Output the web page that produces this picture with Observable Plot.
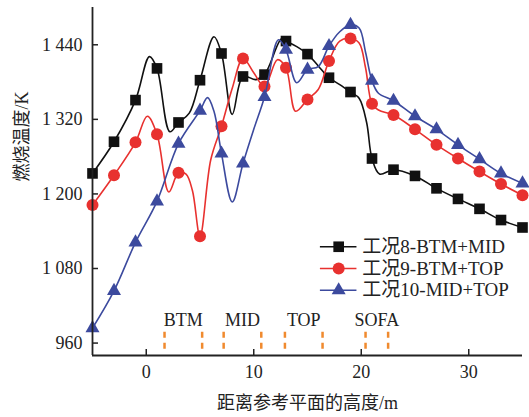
<!DOCTYPE html>
<html><head><meta charset="utf-8">
<script src="https://cdn.jsdelivr.net/npm/d3@7"></script>
<script src="https://cdn.jsdelivr.net/npm/@observablehq/plot@0.6"></script>
<style>
html,body{margin:0;padding:0;background:#fff;}
#chart svg{font-family:"Liberation Serif","Noto Sans CJK SC",serif;}
</style></head><body><div id="chart"></div>
<script>
// Marker positions (height above reference plane, m)
const heights = [-5,-3,-1,1,3,5,7,9,11,13,15,17,19,21,23,25,27,29,31,33,35];
// Marker values (K)
const case8  = [1233,1284,1351,1402,1315,1383,1426,1389,1392,1446,1425,1387,1364,1257,1239,1229,1209,1192,1176,1158,1146];
const case9  = [1182,1230,1283,1296,1234,1132,1309,1418,1373,1403,1352,1414,1450,1345,1327,1304,1279,1257,1236,1216,1198];
const case10 = [984,1044,1122,1188,1281,1334,1265,1249,1356,1432,1400,1438,1472,1382,1350,1325,1304,1279,1256,1233,1217];
// Extra points
const curve8X  = [0.3, 2.2, 4, 6.3, 8, 10.2, 12.6, 14, 16, 18, 19.8, 20.5, 21.7];
const curve8Y  = [1421, 1300, 1330, 1453, 1328, 1384, 1450, 1437, 1406, 1376, 1354, 1315, 1232];
const curve9X  = [0.1, 2.1, 3.7, 4.3, 6, 8, 10, 12.2, 13.9, 16, 18, 19.8, 20.4, 21.6];
const curve9Y  = [1325, 1203, 1232, 1205, 1255, 1370, 1395, 1416, 1333, 1368, 1446, 1443, 1403, 1335];
const curve10X = [5.7, 6.3, 8, 10, 12.3, 14, 16, 18, 19.8, 20.4, 21.6];
const curve10Y = [1355, 1333, 1187, 1304, 1448, 1379, 1405, 1461, 1467, 1428, 1362];

const seriesNames = ["工况8-BTM+MID", "工况9-BTM+TOP", "工况10-MID+TOP"];
const yTicks = [960, 1080, 1200, 1320, 1440];
const xTicks = [0, 10, 20, 30];
const zoneNames = ["BTM", "MID", "TOP", "SOFA"];
const zoneStart = [1.7, 7.2, 12.9, 20.4];
const zoneEnd   = [5.2, 10.7, 16.4, 22.5];

const colors = ["#111111", "#e8312f", "#3c4a9e"];
const symbols = ["square", "circle", "triangle"];
const radii = [6, 6, 5.2];

const locale = d3.formatLocale({decimal: ".", thousands: " ", grouping: [3], currency: ["", ""]});
const fmt = locale.format(",d");

function build(vals, ex, ey) {
  const markers = heights.map((x, i) => ({x, y: vals[i]}));
  const curve = markers.concat(ex.map((x, i) => ({x, y: ey[i]}))).sort((a, b) => a.x - b.x);
  return {markers, curve};
}
const series = [
  build(case8, curve8X, curve8Y),
  build(case9, curve9X, curve9Y),
  build(case10, curve10X, curve10Y)
];

const legendRows = [1115, 1080, 1045];
const marks = [];
// zones
marks.push(Plot.ruleX(zoneStart.concat(zoneEnd), {y1: 950, y2: 980, stroke: "#f08a2e", strokeWidth: 2.5, strokeDasharray: "6,5"}));
marks.push(Plot.text(zoneNames, {x: (d, i) => (zoneStart[i] + zoneEnd[i]) / 2, y: 997, text: d => d, fontSize: 18, fill: "#222", textAnchor: "middle", lineAnchor: "middle"}));
// series
series.forEach((s, k) => {
  marks.push(Plot.line(s.curve, {x: "x", y: "y", stroke: colors[k], strokeWidth: 1.6, curve: "catmull-rom"}));
  marks.push(Plot.dot(s.markers, {x: "x", y: "y", symbol: symbols[k], fill: colors[k], stroke: "none", r: radii[k]}));
});
// legend
seriesNames.forEach((name, k) => {
  marks.push(Plot.ruleY([legendRows[k]], {x1: 16.2, x2: 19.6, stroke: colors[k], strokeWidth: 1.6}));
  marks.push(Plot.dot([legendRows[k]], {x: 17.9, y: d => d, symbol: symbols[k], fill: colors[k], r: radii[k]}));
  marks.push(Plot.text([name], {x: 20.1, y: legendRows[k], text: d => d, fontSize: 19, fill: "#222", textAnchor: "start", lineAnchor: "middle"}));
});
// axes
marks.push(Plot.axisY(yTicks, {tickSize: -6, tickPadding: 16, tickFormat: fmt, fontSize: 18, strokeWidth: 1.5, label: null, color: "#222"}));
marks.push(Plot.axisX(xTicks, {tickSize: -6, tickPadding: 16, tickFormat: d => d, fontSize: 18, strokeWidth: 1.5, label: null, color: "#222"}));
marks.push(Plot.ruleX([-5], {stroke: "#222", strokeWidth: 1.8}));
marks.push(Plot.ruleY([940], {stroke: "#222", strokeWidth: 1.8}));
marks.push(Plot.text(["距离参考平面的高度/m"], {frameAnchor: "bottom", dy: 48, fontSize: 18, fill: "#222", lineAnchor: "middle"}));
marks.push(Plot.text(["燃烧温度/K"], {frameAnchor: "left", dx: -70, rotate: -90, fontSize: 18, fill: "#222", lineAnchor: "middle"}));

const chart = Plot.plot({
  width: 529,
  height: 417,
  marginLeft: 92,
  marginRight: 7,
  marginTop: 7,
  marginBottom: 62,
  x: {domain: [-5, 35]},
  y: {domain: [940, 1500]},
  style: {background: "#fff", color: "#222", fontFamily: "'Liberation Serif','Noto Sans CJK SC',serif"},
  marks
});
document.getElementById("chart").appendChild(chart);
</script></body></html>
